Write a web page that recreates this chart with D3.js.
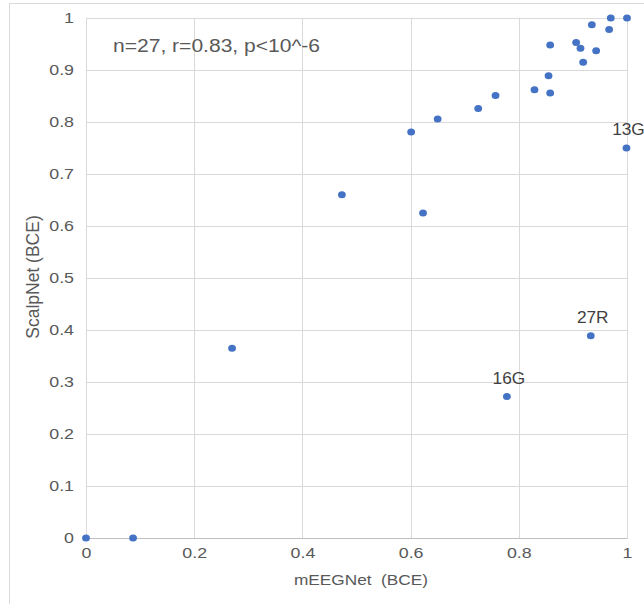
<!DOCTYPE html>
<html>
<head>
<meta charset="utf-8">
<script src="https://cdn.jsdelivr.net/npm/d3@7"></script>
<style>
  body { margin: 0; background: #fff; }
  svg { display: block; font-family: "Liberation Sans", Arial, sans-serif; }
</style>
</head>
<body>
<div id="container"></div>
<script>
// values
let xVals = [0, 0.087, 0.27, 0.473, 0.601, 0.623, 0.65, 0.725, 0.757, 0.829, 0.858, 0.855,
             0.858, 0.906, 0.914, 0.943, 0.919, 0.935, 0.967, 0.97, 1.0, 0.999, 0.933, 0.778]
let yVals = [0, 0, 0.365, 0.66, 0.781, 0.625, 0.806, 0.826, 0.851, 0.862, 0.856, 0.889,
             0.948, 0.953, 0.942, 0.937, 0.915, 0.987, 0.978, 1.0, 1.0, 0.75, 0.389, 0.272]
let pointLabels = ["", "", "", "", "", "", "", "", "", "", "", "",
                   "", "", "", "", "", "", "", "", "", "13G", "27R", "16G"]
let xTicks = [0, 0.2, 0.4, 0.6, 0.8, 1]
let yTicks = [0, 0.1, 0.2, 0.3, 0.4, 0.5, 0.6, 0.7, 0.8, 0.9, 1]
let statsText = "n=27, r=0.83, p<10^-6"

function drawChart() {
    let width = 644
    let height = 604
    let margin = {top: 18, right: 17, bottom: 66, left: 86}
    let grid = "#d9d9d9"
    let textColor = "#595959"
    let dot = "#4472c4"
    let sx = 1.15  // the picture's text is a bit wider than tall

    let data = xVals.map((x, i) => ({x: x, y: yVals[i], label: pointLabels[i]}))

    let svg = d3.select("#container")
        .append("svg")
        .attr("width", width)
        .attr("height", height)

    // outer chart frame
    svg.append("rect")
        .attr("x", 9.5).attr("y", 3.5)
        .attr("width", 700).attr("height", 700)
        .attr("fill", "none")
        .attr("stroke", grid)

    let x = d3.scaleLinear()
        .domain([0, 1])
        .range([margin.left, width - margin.right])

    let y = d3.scaleLinear()
        .domain([0, 1])
        .range([height - margin.bottom, margin.top])

    // gridlines
    svg.append("g")
        .attr("stroke", grid)
        .selectAll("line")
        .data(xTicks)
        .join("line")
            .attr("x1", d => Math.round(x(d)) + 0.5)
            .attr("x2", d => Math.round(x(d)) + 0.5)
            .attr("y1", y(1))
            .attr("y2", y(0))

    svg.append("g")
        .attr("stroke", grid)
        .selectAll("line")
        .data(yTicks)
        .join("line")
            .attr("x1", x(0))
            .attr("x2", x(1))
            .attr("y1", d => Math.round(y(d)) + 0.5)
            .attr("y2", d => Math.round(y(d)) + 0.5)

    // axes (text only, lines come from the grid)
    svg.append("g")
        .attr("transform", `translate(0,${y(0)})`)
        .call(d3.axisBottom(x).tickValues(xTicks).tickFormat(d3.format("")).tickSize(0).tickPadding(9))
        .call(g => g.select(".domain").attr("stroke", "#bfbfbf"))
        .call(g => g.selectAll("text")
            .attr("fill", textColor).attr("font-size", 15.5)
            .attr("transform", `scale(${sx},1)`))

    svg.append("g")
        .attr("transform", `translate(${x(0)},0)`)
        .call(d3.axisLeft(y).tickValues(yTicks).tickFormat(d3.format("")).tickSize(0).tickPadding(12))
        .call(g => g.select(".domain").remove())
        .call(g => g.selectAll("text")
            .attr("fill", textColor).attr("font-size", 15.5)
            .attr("x", -12 / sx)
            .attr("transform", `scale(${sx},1)`))

    // axis titles
    svg.append("text")
        .attr("transform", `translate(361,585) scale(${sx},1)`)
        .attr("text-anchor", "middle")
        .attr("fill", textColor)
        .attr("font-size", 15)
        .text("mEEGNet\u00a0 (BCE)")

    svg.append("text")
        .attr("transform", "translate(39,277) rotate(-90)")
        .attr("text-anchor", "middle")
        .attr("fill", textColor)
        .attr("font-size", 17.5)
        .text("ScalpNet (BCE)")

    // points
    svg.append("g")
        .attr("fill", dot)
        .selectAll("ellipse")
        .data(data)
        .join("ellipse")
            .attr("cx", d => x(d.x))
            .attr("cy", d => y(d.y))
            .attr("rx", 3.9)
            .attr("ry", 3.5)

    // point labels
    svg.append("g")
        .selectAll("text")
        .data(data.filter(d => d.label))
        .join("text")
            .attr("transform", d => `translate(${x(d.x) + 2},${y(d.y) - 13}) scale(1.08,1)`)
            .attr("text-anchor", "middle")
            .attr("fill", "#404040")
            .attr("font-size", 16)
            .text(d => d.label)

    // stats annotation
    svg.append("text")
        .attr("transform", `translate(113,52) scale(${sx},1)`)
        .attr("fill", textColor)
        .attr("font-size", 18.3)
        .text(statsText)

    return svg.node()
}

drawChart()
</script>
</body>
</html>
